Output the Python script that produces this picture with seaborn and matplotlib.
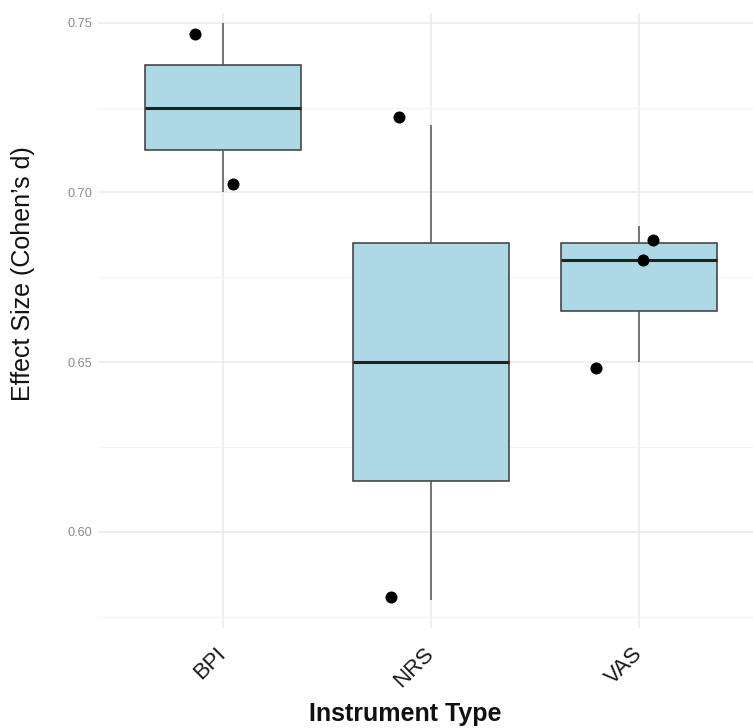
import numpy as np
import pandas as pd
import seaborn as sns
import matplotlib.pyplot as plt
from matplotlib.ticker import MultipleLocator

# データ（元の値）
instrument = ["BPI", "BPI", "NRS", "NRS", "VAS", "VAS", "VAS"]
effect_size = [0.70, 0.75, 0.58, 0.72, 0.65, 0.68, 0.69]
order = ["BPI", "NRS", "VAS"]

# ジッター後の点の位置
jitter_dx = [0.048, -0.135, -0.19, -0.153, -0.205, 0.02, 0.067]
jitter_y = [0.7025, 0.7466, 0.5809, 0.7221, 0.6482, 0.680, 0.6859]

y_ticks = [0.60, 0.65, 0.70, 0.75]
y_tick_labels = ["0.60", "0.65", "0.70", "0.75"]

df = pd.DataFrame({"Instrument": instrument, "Effect": effect_size})

sns.set_theme(style="white")
plt.rcParams["font.family"] = ["Liberation Sans", "DejaVu Sans"]

fig = plt.figure(figsize=(7.53, 7.28), dpi=100)
ax = fig.add_axes([98 / 753, 1 - 628.4 / 728, 1 - 98 / 753, (628.4 - 13) / 728])

sns.boxplot(data=df, x="Instrument", y="Effect", order=order, ax=ax,
            color="#ADD8E6", saturation=1, width=0.75, showfliers=False,
            linecolor="#3a3a3a", linewidth=1.1,
            whiskerprops={"color": "#555555", "linewidth": 1.1},
            capprops={"linewidth": 0},
            medianprops={"color": "#222222", "linewidth": 2.2},
            zorder=2)

codes = np.array([order.index(c) for c in instrument])
ax.scatter(codes + np.array(jitter_dx), jitter_y, s=75, color="black",
           linewidths=0, zorder=4)

ax.set_xlim(-0.6, 2.548)
ax.set_ylim(0.5715, 0.7529)
ax.set_yticks(y_ticks)
ax.set_yticklabels(y_tick_labels)
ax.yaxis.set_minor_locator(MultipleLocator(0.025))

ax.grid(True, which="major", color="#EBEBEB", linewidth=1.1, zorder=0)
ax.grid(True, which="minor", axis="y", color="#F3F3F3", linewidth=0.9, zorder=0)
ax.set_axisbelow(True)
for s in ax.spines.values():
    s.set_visible(False)

ax.tick_params(axis="both", which="both", length=0)
ax.tick_params(axis="y", labelsize=9.2, labelcolor="#8a8a8a", pad=4.3)
ax.tick_params(axis="x", labelsize=16, labelcolor="#1a1a1a", pad=16)
for lab in ax.get_xticklabels():
    lab.set_rotation(45)
    lab.set_ha("right")
    lab.set_va("center")
    lab.set_rotation_mode("anchor")

ax.set_xlabel("Instrument Type", fontsize=18, fontweight="bold", color="#111111",
              ha="center", va="center")
ax.xaxis.set_label_coords(405 / 753, 1 - 714 / 728, transform=fig.transFigure)
ax.set_ylabel("Effect Size (Cohen’s d)", fontsize=18, color="#111111",
              ha="center", va="center")
ax.yaxis.set_label_coords(23.5 / 753, 1 - 274 / 728, transform=fig.transFigure)

fig.savefig("out.png", dpi=100)
